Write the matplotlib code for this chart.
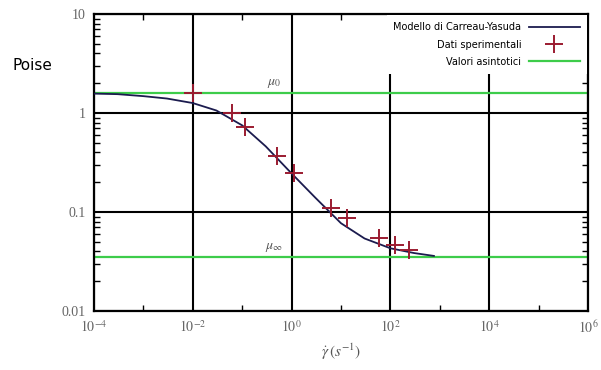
import matplotlib
matplotlib.use('Agg')
import matplotlib.pyplot as plt
from matplotlib.ticker import LogLocator, FixedLocator, NullFormatter

plt.rcParams['mathtext.fontset'] = 'stix'

# curva del modello
shear_model = [1e-4, 3e-4, 1e-3, 3e-3, 1e-2, 3e-2, 0.1, 0.3, 1, 3, 10, 30, 100, 300, 760]
visc_model = [1.57, 1.55, 1.48, 1.40, 1.26, 1.06, 0.75, 0.46, 0.245, 0.14,
              0.077, 0.054, 0.043, 0.0385, 0.036]

# dati sperimentali
shear_exp = [0.01, 0.063, 0.115, 0.51, 1.1, 6.4, 13, 60, 126, 234]
visc_exp = [1.6, 1.0, 0.72, 0.37, 0.25, 0.11, 0.087, 0.055, 0.046, 0.041]

mu0 = 1.59
mu_inf = 0.035

fig = plt.figure(figsize=(6.01, 3.70), dpi=100)
ax = fig.add_axes([94/601, 1-311/370, 494/601, 297/370])

ax.set_xscale('log')
ax.set_yscale('log')
ax.set_xlim(1e-4, 1e6)
ax.set_ylim(0.01, 10)

ax.xaxis.set_major_locator(FixedLocator([1e-4, 1e-2, 1e0, 1e2, 1e4, 1e6]))
ax.xaxis.set_minor_locator(FixedLocator([1e-3, 1e-1, 1e1, 1e3, 1e5]))
ax.xaxis.set_minor_formatter(NullFormatter())
ax.set_xticklabels([r'$10^{-4}$', r'$10^{-2}$', r'$10^{0}$', r'$10^{2}$', r'$10^{4}$', r'$10^{6}$'])
ax.yaxis.set_major_locator(FixedLocator([0.01, 0.1, 1, 10]))
ax.yaxis.set_minor_locator(LogLocator(base=10, subs=range(2, 10)))
ax.yaxis.set_minor_formatter(NullFormatter())
ax.set_yticklabels(['0.01', '0.1', '1', '10'], family='Liberation Serif')

ax.tick_params(which='both', direction='in', top=True, right=True, colors='black',
               labelcolor='#666666', labelsize=10, width=1)
ax.tick_params(which='major', length=0, pad=6)
ax.tick_params(which='minor', length=4)
for s in ax.spines.values():
    s.set_linewidth(1.6)

ax.grid(True, which='major', color='black', linewidth=1.5)

ax.axhline(mu0, color='#3dcc4a', linewidth=1.6, zorder=2, label='Valori asintotici')
ax.axhline(mu_inf, color='#3dcc4a', linewidth=1.6, zorder=2)
ax.plot(shear_model, visc_model, color='#1b1b4e', linewidth=1.3, zorder=3,
        label='Modello di Carreau-Yasuda')
ax.plot(shear_exp, visc_exp, linestyle='none', marker='+', markersize=13,
        markeredgewidth=1.4, color='#9b1b30', zorder=4, label='Dati sperimentali')

ax.text(0.45, 1.72, r'$\mu_0$', fontsize=10, color='#555555', ha='center', va='bottom')
ax.text(0.45, 0.038, r'$\mu_\infty$', fontsize=10, color='#555555', ha='center', va='bottom')

h, l = ax.get_legend_handles_labels()
leg = ax.legend([h[1], h[2], h[0]], [l[1], l[2], l[0]], loc='upper right',
                markerfirst=False, fontsize=7, frameon=True, fancybox=False,
                edgecolor='none', framealpha=1, handlelength=5.2,
                borderaxespad=0.15, borderpad=0.7, labelspacing=0.75)
leg.set_zorder(10)

ax.set_xlabel(r'$\dot{\gamma}\,(s^{-1})$', fontsize=11, color='#555555', labelpad=4)
fig.text(12/601, 1-66/370, 'Poise', fontsize=11, va='center', ha='left')

plt.savefig('out.png', dpi=100)
